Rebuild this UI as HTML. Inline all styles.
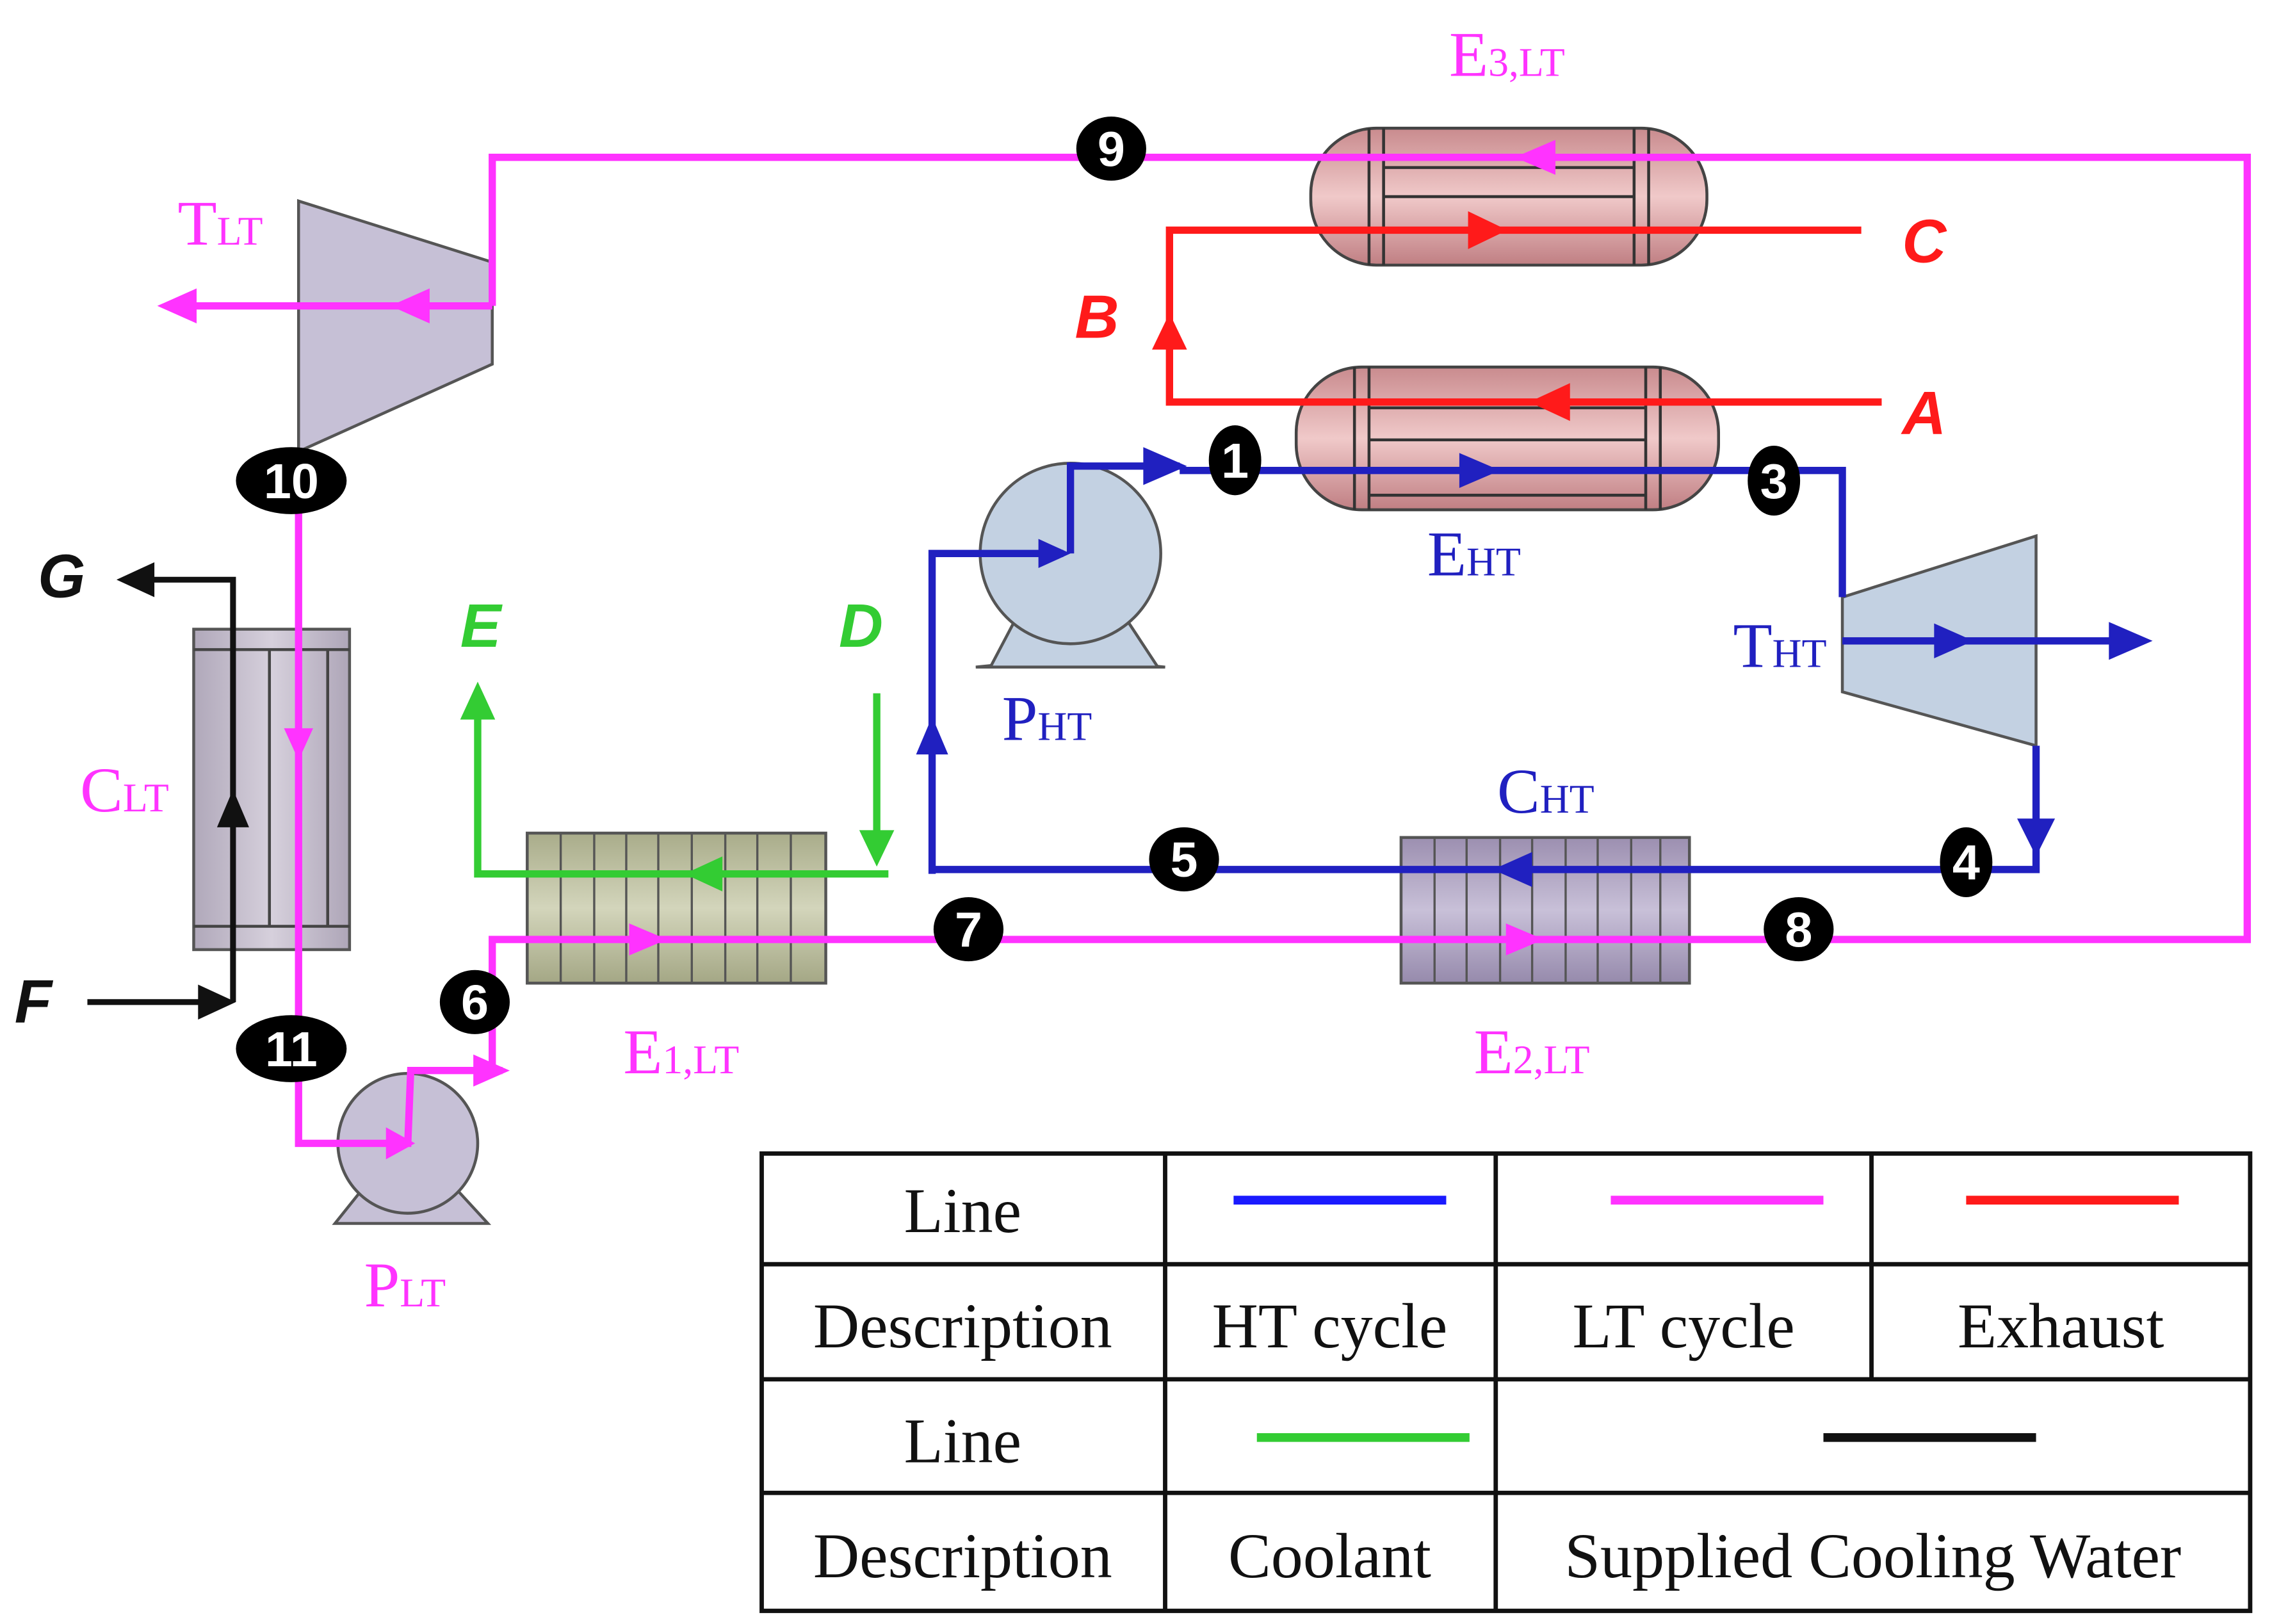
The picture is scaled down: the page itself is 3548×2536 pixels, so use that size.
<!DOCTYPE html>
<html><head><meta charset="utf-8"><style>
html,body{margin:0;padding:0;background:#fff;}
svg{display:block;}
.s{font-family:"Liberation Serif",serif;}
.b{font-family:"Liberation Sans",sans-serif;font-weight:bold;font-style:italic;}
.n{font-family:"Liberation Sans",sans-serif;font-weight:bold;fill:#fff;font-size:34px;text-anchor:middle;}
</style></head><body>
<svg width="3548" height="2536" viewBox="0 0 1560 1115" xmlns="http://www.w3.org/2000/svg">
<defs>
<linearGradient id="rg" x1="0" y1="0" x2="0" y2="1"><stop offset="0" stop-color="#c98b8e"/><stop offset=".5" stop-color="#f0c9c9"/><stop offset="1" stop-color="#c07f83"/></linearGradient>
<linearGradient id="pg" x1="0" y1="0" x2="0" y2="1"><stop offset="0" stop-color="#9c8fb0"/><stop offset=".5" stop-color="#c8c0d8"/><stop offset="1" stop-color="#968aac"/></linearGradient>
<linearGradient id="gg" x1="0" y1="0" x2="0" y2="1"><stop offset="0" stop-color="#a9ac8a"/><stop offset=".5" stop-color="#d3d5bb"/><stop offset="1" stop-color="#a4a785"/></linearGradient>
<linearGradient id="cg" x1="0" y1="0" x2="1" y2="0"><stop offset="0" stop-color="#b0a8ba"/><stop offset=".5" stop-color="#d6d0dc"/><stop offset="1" stop-color="#aea6b8"/></linearGradient>
</defs>
<!-- equipment -->
<!-- E3LT -->
<rect x="900" y="88" width="272" height="94" rx="45" fill="url(#rg)" stroke="#444" stroke-width="2"/>
<g stroke="#333" stroke-width="2"><line x1="940" y1="88" x2="940" y2="182"/><line x1="1132" y1="88" x2="1132" y2="182"/><line x1="950" y1="88" x2="950" y2="182"/><line x1="1122" y1="88" x2="1122" y2="182"/>
<line x1="950" y1="115" x2="1122" y2="115"/><line x1="950" y1="135" x2="1122" y2="135"/><line x1="950" y1="158" x2="1122" y2="158"/></g>
<!-- EHT -->
<rect x="890" y="252" width="290" height="98" rx="45" fill="url(#rg)" stroke="#444" stroke-width="2"/>
<g stroke="#333" stroke-width="2"><line x1="930" y1="252" x2="930" y2="350"/><line x1="940" y1="252" x2="940" y2="350"/><line x1="1130" y1="252" x2="1130" y2="350"/><line x1="1140" y1="252" x2="1140" y2="350"/>
<line x1="940" y1="280" x2="1130" y2="280"/><line x1="940" y1="302" x2="1130" y2="302"/><line x1="940" y1="340" x2="1130" y2="340"/></g>
<!-- TLT -->
<polygon points="205,138 338,180 338,250 205,310" fill="#c6c0d6" stroke="#555" stroke-width="2"/>
<!-- THT -->
<polygon points="1265,410 1398,368 1398,512 1265,475" fill="#c3d1e2" stroke="#555" stroke-width="2"/>
<!-- CLT -->
<rect x="133" y="432" width="107" height="220" fill="url(#cg)" stroke="#555" stroke-width="2"/>
<g stroke="#444" stroke-width="2"><line x1="133" y1="446" x2="240" y2="446"/><line x1="133" y1="636" x2="240" y2="636"/><line x1="185" y1="446" x2="185" y2="636"/><line x1="225" y1="446" x2="225" y2="636"/></g>
<!-- E1LT -->
<rect x="362" y="572" width="205" height="103" fill="url(#gg)" stroke="#555" stroke-width="2"/>
<g stroke="#555" stroke-width="1.5"><line x1="385" y1="572" x2="385" y2="675"/><line x1="408" y1="572" x2="408" y2="675"/><line x1="430" y1="572" x2="430" y2="675"/><line x1="452" y1="572" x2="452" y2="675"/><line x1="475" y1="572" x2="475" y2="675"/><line x1="498" y1="572" x2="498" y2="675"/><line x1="520" y1="572" x2="520" y2="675"/><line x1="543" y1="572" x2="543" y2="675"/></g>
<!-- E2LT -->
<rect x="962" y="575" width="198" height="100" fill="url(#pg)" stroke="#555" stroke-width="2"/>
<g stroke="#555" stroke-width="1.5"><line x1="985" y1="575" x2="985" y2="675"/><line x1="1007" y1="575" x2="1007" y2="675"/><line x1="1030" y1="575" x2="1030" y2="675"/><line x1="1052" y1="575" x2="1052" y2="675"/><line x1="1075" y1="575" x2="1075" y2="675"/><line x1="1097" y1="575" x2="1097" y2="675"/><line x1="1120" y1="575" x2="1120" y2="675"/><line x1="1140" y1="575" x2="1140" y2="675"/></g>
<!-- pumps -->
<polygon points="700,455 770,455 800,458 670,458" fill="#c3d1e2" stroke="#555" stroke-width="2"/>
<path d="M700,420 L680,458 L795,458 L770,420Z" fill="#c3d1e2" stroke="#555" stroke-width="2"/>
<circle cx="735" cy="380" r="62" fill="#c3d1e2" stroke="#555" stroke-width="2"/>
<path d="M250,815 L230,840 L335,840 L312,815Z" fill="#c6c0d6" stroke="#555" stroke-width="2"/>
<circle cx="280" cy="785" r="48" fill="#c6c0d6" stroke="#555" stroke-width="2"/>

<!-- pink lines -->
<g fill="none" stroke="#ff33ff" stroke-width="5">
<polyline points="338,210 338,108 1543,108 1543,645 338,645 338,735 345,735"/>
<line x1="338" y1="210" x2="125" y2="210"/>
<polyline points="205,310 205,785 280,785 282,735 340,735"/>
</g>
<g fill="#ff33ff">
<polygon points="108,210 135,198 135,222"/><polygon points="268,210 295,198 295,222"/>
<polygon points="1040,108 1068,96 1068,120"/>
<polygon points="205,522 195,500 215,500"/>
<polygon points="350,735 325,724 325,746"/>
<polygon points="458,645 432,634 432,656"/>
<polygon points="1060,645 1034,634 1034,656"/>
<polygon points="285,785 265,774 265,796"/>
</g>
<!-- blue -->
<g fill="none" stroke="#2020c0" stroke-width="5">
<polyline points="640,600 640,380 730,380"/>
<polyline points="735,380 735,320 810,320"/>
<polyline points="810,323 1265,323 1265,410"/>
<line x1="1265" y1="440" x2="1460" y2="440"/>
<polyline points="1398,512 1398,597 640,597"/>
</g>
<g fill="#2020c0">
<polygon points="640,492 629,518 651,518"/><polygon points="735,380 713,370 713,390"/>
<polygon points="815,320 785,307 785,333"/><polygon points="1030,323 1002,311 1002,335"/>
<polygon points="1355,440 1328,428 1328,452"/><polygon points="1478,440 1448,427 1448,453"/>
<polygon points="1398,588 1385,562 1411,562"/><polygon points="1025,597 1052,585 1052,609"/>
</g>
<!-- red -->
<g fill="none" stroke="#ff1a1a" stroke-width="5">
<polyline points="1292,276 803,276 803,158 1278,158"/>
</g>
<g fill="#ff1a1a">
<polygon points="1050,276 1078,263 1078,289"/><polygon points="803,215 791,240 815,240"/>
<polygon points="1035,158 1008,145 1008,171"/>
</g>
<!-- green -->
<g fill="none" stroke="#33cc33" stroke-width="5">
<line x1="602" y1="476" x2="602" y2="590"/>
<polyline points="610,600 328,600 328,488"/>
</g>
<g fill="#33cc33">
<polygon points="602,595 590,570 614,570"/><polygon points="328,468 316,494 340,494"/>
<polygon points="470,600 496,588 496,612"/>
</g>
<!-- black -->
<g fill="none" stroke="#111" stroke-width="4">
<line x1="60" y1="688" x2="150" y2="688"/>
<polyline points="160,688 160,398 100,398"/>
</g>
<g fill="#111">
<polygon points="162,688 136,676 136,700"/><polygon points="80,398 106,386 106,410"/>
<polygon points="160,542 149,568 171,568"/>
</g>
<!-- nodes -->
<g fill="#000">
<ellipse cx="200" cy="330" rx="38" ry="23"/><ellipse cx="200" cy="720" rx="38" ry="23"/>
<ellipse cx="763" cy="102" rx="24" ry="22"/><ellipse cx="848" cy="316" rx="18" ry="24"/>
<ellipse cx="1218" cy="330" rx="18" ry="24"/><ellipse cx="1350" cy="592" rx="18" ry="24"/>
<ellipse cx="813" cy="590" rx="24" ry="22"/><ellipse cx="665" cy="638" rx="24" ry="22"/>
<ellipse cx="1235" cy="638" rx="24" ry="22"/><ellipse cx="326" cy="688" rx="24" ry="22"/>
</g>
<g class="n">
<text x="200" y="342">10</text><text x="200" y="732">11</text><text x="763" y="114">9</text>
<text x="848" y="328">1</text><text x="1218" y="342">3</text><text x="1350" y="604">4</text>
<text x="813" y="602">5</text><text x="665" y="650">7</text><text x="1235" y="650">8</text><text x="326" y="700">6</text>
</g>
<!-- labels -->
<g class="s" font-size="44">
<text x="995" y="52" fill="#ff33ff">E<tspan font-size="28">3,LT</tspan></text>
<text x="122" y="168" fill="#ff33ff">T<tspan font-size="28">LT</tspan></text>
<text x="980" y="395" fill="#2020c0">E<tspan font-size="28">HT</tspan></text>
<text x="1190" y="458" fill="#2020c0">T<tspan font-size="28">HT</tspan></text>
<text x="688" y="508" fill="#2020c0">P<tspan font-size="28">HT</tspan></text>
<text x="1028" y="558" fill="#2020c0">C<tspan font-size="28">HT</tspan></text>
<text x="55" y="557" fill="#ff33ff">C<tspan font-size="28">LT</tspan></text>
<text x="428" y="737" fill="#ff33ff">E<tspan font-size="28">1,LT</tspan></text>
<text x="1012" y="737" fill="#ff33ff">E<tspan font-size="28">2,LT</tspan></text>
<text x="250" y="897" fill="#ff33ff">P<tspan font-size="28">LT</tspan></text>
</g>
<g class="b" font-size="42">
<text x="1306" y="180" fill="#ff1a1a">C</text>
<text x="738" y="232" fill="#ff1a1a">B</text>
<text x="1306" y="298" fill="#ff1a1a">A</text>
<text x="316" y="444" fill="#33cc33">E</text>
<text x="576" y="444" fill="#33cc33">D</text>
<text x="26" y="410" fill="#111">G</text>
<text x="10" y="702" fill="#111">F</text>
</g>
<!-- table -->
<g stroke="#111" stroke-width="3" fill="none">
<rect x="523" y="792" width="1022" height="314"/>
<line x1="523" y1="868" x2="1545" y2="868"/><line x1="523" y1="947" x2="1545" y2="947"/><line x1="523" y1="1025" x2="1545" y2="1025"/>
<line x1="800" y1="792" x2="800" y2="1106"/><line x1="1027" y1="792" x2="1027" y2="1106"/><line x1="1285" y1="792" x2="1285" y2="947"/>
</g>
<g stroke-width="6"><line x1="847" y1="824" x2="993" y2="824" stroke="#1a1aff"/><line x1="1106" y1="824" x2="1252" y2="824" stroke="#ff33ff"/><line x1="1350" y1="824" x2="1496" y2="824" stroke="#ff1a1a"/>
<line x1="863" y1="987" x2="1009" y2="987" stroke="#33cc33"/><line x1="1252" y1="987" x2="1398" y2="987" stroke="#111"/></g>
<g class="s" font-size="44" fill="#111" text-anchor="middle">
<text x="661" y="846">Line</text><text x="661" y="925">Description</text>
<text x="913" y="925">HT cycle</text><text x="1156" y="925">LT cycle</text><text x="1415" y="925">Exhaust</text>
<text x="661" y="1004">Line</text><text x="661" y="1083">Description</text>
<text x="913" y="1083">Coolant</text><text x="1286" y="1083">Supplied Cooling Water</text>
</g>
</svg>
</body></html>
